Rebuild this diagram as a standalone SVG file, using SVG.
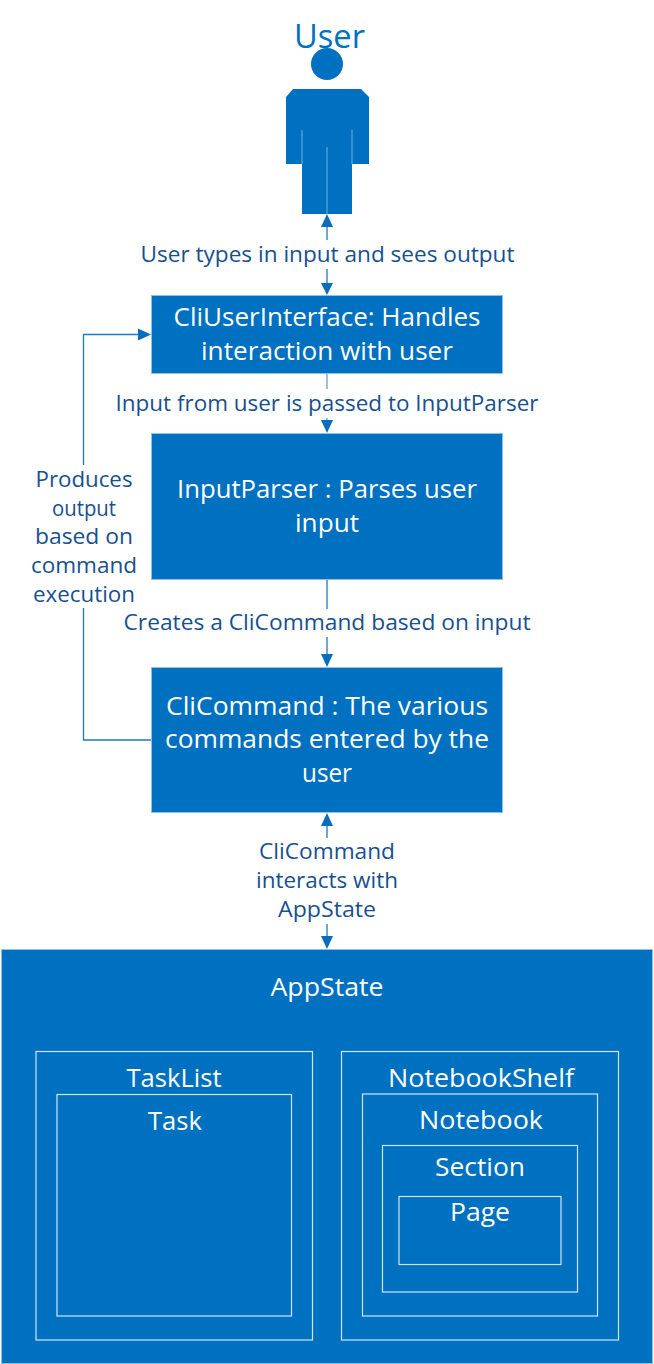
<svg xmlns="http://www.w3.org/2000/svg" width="654" height="1364" viewBox="0 0 654 1364">
<style>
text{font-family:"Open Sans","Noto Sans","Liberation Sans",sans-serif;text-anchor:middle}
.n{fill:#0070c0;stroke:#8fc0e8;stroke-width:1}
.o{fill:none;stroke:#cfe4f5;stroke-width:1.2}
.t{fill:#fff;font-size:25.500px}
.l{fill:#17508f;font-size:22px}
.s{font-size:21px}
.c{fill:none;stroke:#1f78c1;stroke-width:1.3}
.h{fill:#0a6cbd;stroke:none}
</style>
<rect width="654" height="1364" fill="#fff"/>
<g id="connectors">
<path class="c" d="M327 226V240M327 269V285"/>
<path class="h" d="M327 214L333 227H321Z"/>
<path class="h" d="M327 295L321 283H333Z"/>
<path class="c" d="M327 374V389M327 418V422" stroke-opacity=".7"/>
<path class="h" d="M327 433L321 420H333Z"/>
<path class="c" d="M327 580V609M327 637V656"/>
<path class="h" d="M327 667L321 654H333Z"/>
<path class="c" d="M327 825V838M327 924V938"/>
<path class="h" d="M327 813L333 826H321Z"/>
<path class="h" d="M327 949L321 936H333Z"/>
<path class="c" d="M151 740H83.500V608M83.500 465V334.500H140"/>
<path class="h" d="M151 334.500L138 328.500V340.500Z"/>
</g>
<g id="user">
<text x="329.500" y="48" font-size="33" fill="#0070c0" textLength="71" lengthAdjust="spacingAndGlyphs">User</text>
<circle cx="327" cy="64" r="16" fill="#0070c0"/>
<path fill="#0070c0" d="M293 89H361L369 97V164H352V214H302V164H286V97Z"/>
<path stroke="#6fb1e6" stroke-width="1" fill="none" d="M302 130V164M352 130V164M327 147V214"/>
</g>
<g id="edge-labels">
<text class="l" x="327.500" y="262" textLength="374" lengthAdjust="spacingAndGlyphs">User types in input and sees output</text>
<text class="l" x="327" y="411" textLength="423" lengthAdjust="spacingAndGlyphs">Input from user is passed to InputParser</text>
<text class="l" x="327" y="630" textLength="407" lengthAdjust="spacingAndGlyphs">Creates a CliCommand based on input</text>
<text class="l s" x="84" y="487" textLength="97" lengthAdjust="spacingAndGlyphs">Produces</text>
<text class="l s" x="84" y="516" textLength="64" lengthAdjust="spacingAndGlyphs">output</text>
<text class="l s" x="84" y="544" textLength="98" lengthAdjust="spacingAndGlyphs">based on</text>
<text class="l s" x="84" y="573" textLength="106" lengthAdjust="spacingAndGlyphs">command</text>
<text class="l s" x="84" y="602" textLength="102" lengthAdjust="spacingAndGlyphs">execution</text>
<text class="l s" x="327" y="859" textLength="136" lengthAdjust="spacingAndGlyphs">CliCommand</text>
<text class="l s" x="327" y="888" textLength="142" lengthAdjust="spacingAndGlyphs">interacts with</text>
<text class="l s" x="327" y="917" textLength="98" lengthAdjust="spacingAndGlyphs">AppState</text>
</g>
<g id="cli-user-interface">
<rect class="n" x="151.500" y="295.500" width="351" height="78"/>
<text class="t" x="327" y="326" textLength="307" lengthAdjust="spacingAndGlyphs">CliUserInterface: Handles</text>
<text class="t" x="327" y="360" textLength="252" lengthAdjust="spacingAndGlyphs">interaction with user</text>
</g>
<g id="input-parser">
<rect class="n" x="151.500" y="433.500" width="351" height="146"/>
<text class="t" x="327" y="498" textLength="300" lengthAdjust="spacingAndGlyphs">InputParser : Parses user</text>
<text class="t" x="327" y="532" textLength="64" lengthAdjust="spacingAndGlyphs">input</text>
</g>
<g id="cli-command">
<rect class="n" x="151.500" y="667.500" width="351" height="145"/>
<text class="t" x="327" y="715" textLength="322" lengthAdjust="spacingAndGlyphs">CliCommand : The various</text>
<text class="t" x="327" y="748" textLength="324" lengthAdjust="spacingAndGlyphs">commands entered by the</text>
<text class="t" x="327" y="782" textLength="50" lengthAdjust="spacingAndGlyphs">user</text>
</g>
<g id="app-state">
<rect class="n" x="1.500" y="949.500" width="651" height="414"/>
<text class="t" x="327" y="996" textLength="113" lengthAdjust="spacingAndGlyphs">AppState</text>
</g>
<g id="task-list">
<rect class="o" x="36" y="1051.500" width="276.500" height="288.500"/>
<text class="t" x="174" y="1086.500" textLength="95" lengthAdjust="spacingAndGlyphs">TaskList</text>
</g>
<g id="task">
<rect class="o" x="57" y="1094.500" width="234.500" height="221.500"/>
<text class="t" x="175" y="1129.500" textLength="54" lengthAdjust="spacingAndGlyphs">Task</text>
</g>
<g id="notebook-shelf">
<rect class="o" x="341.500" y="1051.500" width="277" height="288.500"/>
<text class="t" x="481" y="1086.500" textLength="186" lengthAdjust="spacingAndGlyphs">NotebookShelf</text>
</g>
<g id="notebook">
<rect class="o" x="362.500" y="1094" width="235" height="222"/>
<text class="t" x="481" y="1128.500" textLength="124" lengthAdjust="spacingAndGlyphs">Notebook</text>
</g>
<g id="section">
<rect class="o" x="382.500" y="1145.500" width="195" height="146.500"/>
<text class="t" x="480" y="1175.500" textLength="90" lengthAdjust="spacingAndGlyphs">Section</text>
</g>
<g id="page">
<rect class="o" x="399" y="1196.500" width="162" height="68"/>
<text class="t" x="480" y="1221" textLength="60" lengthAdjust="spacingAndGlyphs">Page</text>
</g>
</svg>
